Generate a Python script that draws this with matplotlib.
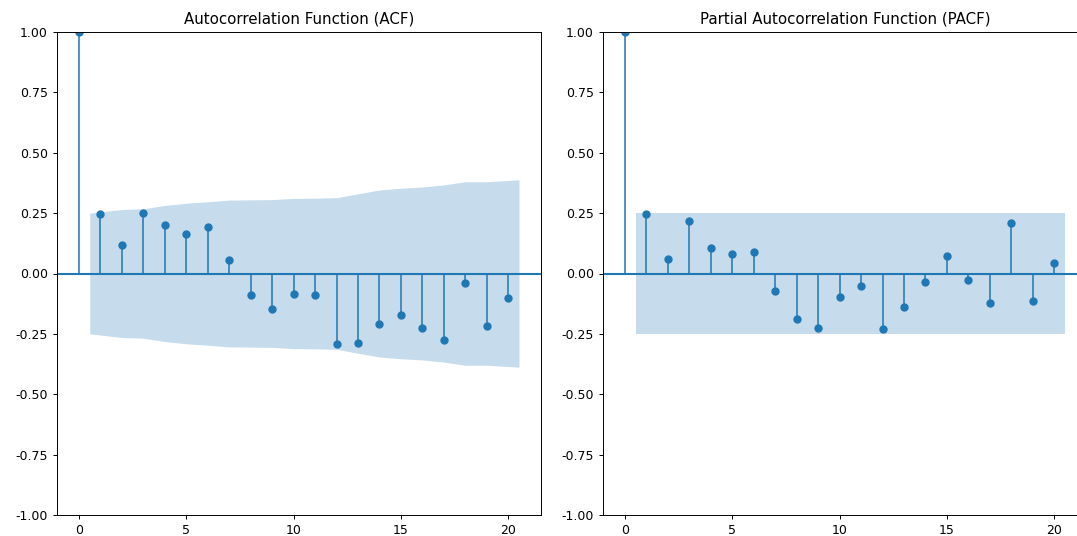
import numpy as np
import matplotlib
matplotlib.use("Agg")
import matplotlib.pyplot as plt

lags = list(range(0, 21))
acf_vals = [1.0, 0.245, 0.119, 0.249, 0.201, 0.164, 0.191, 0.057, -0.088, -0.145, -0.084,
            -0.088, -0.293, -0.288, -0.208, -0.171, -0.226, -0.274, -0.041, -0.216, -0.102]
acf_band = [0.250, 0.265, 0.268, 0.282, 0.291, 0.297, 0.304, 0.305, 0.306, 0.311,
            0.312, 0.314, 0.330, 0.346, 0.353, 0.358, 0.367, 0.380, 0.380, 0.388]
pacf_vals = [1.0, 0.245, 0.061, 0.218, 0.105, 0.081, 0.091, -0.074, -0.189, -0.227, -0.098,
             -0.050, -0.231, -0.140, -0.037, 0.074, -0.026, -0.121, 0.211, -0.113, 0.043]
pacf_band = [0.25] * 20
titles = ["Autocorrelation Function (ACF)", "Partial Autocorrelation Function (PACF)"]
xticks = [0, 5, 10, 15, 20]
yticks = [-1.0, -0.75, -0.5, -0.25, 0.0, 0.25, 0.5, 0.75, 1.0]

W, H = 1077, 536
fig = plt.figure(figsize=(W / 100, H / 100), dpi=100)
axw, axh = 484 / W, 483 / H
bottom = (H - 515) / H
ax1 = fig.add_axes([57 / W, bottom, axw, axh])
ax2 = fig.add_axes([603 / W, bottom, axw, axh])

c0 = "#1f77b4"
for ax, vals, band, title in [(ax1, acf_vals, acf_band, titles[0]),
                              (ax2, pacf_vals, pacf_band, titles[1])]:
    x = np.array(lags, dtype=float)
    v = np.array(vals)
    ax.vlines(x, [0], v, color=c0, linewidth=1.1)
    ax.axhline(0, color=c0, linewidth=1.5)
    ax.plot(x, v, marker="o", markersize=5, linestyle="None", color=c0)
    bx = x[1:].copy()
    bx[0] -= 0.5
    bx[-1] += 0.5
    b = np.array(band)
    ax.fill_between(bx, -b, b, color=c0, alpha=0.25, linewidth=0)
    ax.set_xlim(-1.025, 21.525)
    ax.set_ylim(-1, 1)
    ax.set_xticks(xticks)
    ax.set_yticks(yticks)
    ax.yaxis.set_major_formatter(matplotlib.ticker.FormatStrFormatter("%.2f"))
    ax.tick_params(labelsize=9, width=0.7, length=3.2)
    for s in ax.spines.values():
        s.set_linewidth(0.7)
    ax.set_title(title, fontsize=10.8)

ax2.spines["right"].set_visible(False)

fig.savefig("out.png", dpi=100)
